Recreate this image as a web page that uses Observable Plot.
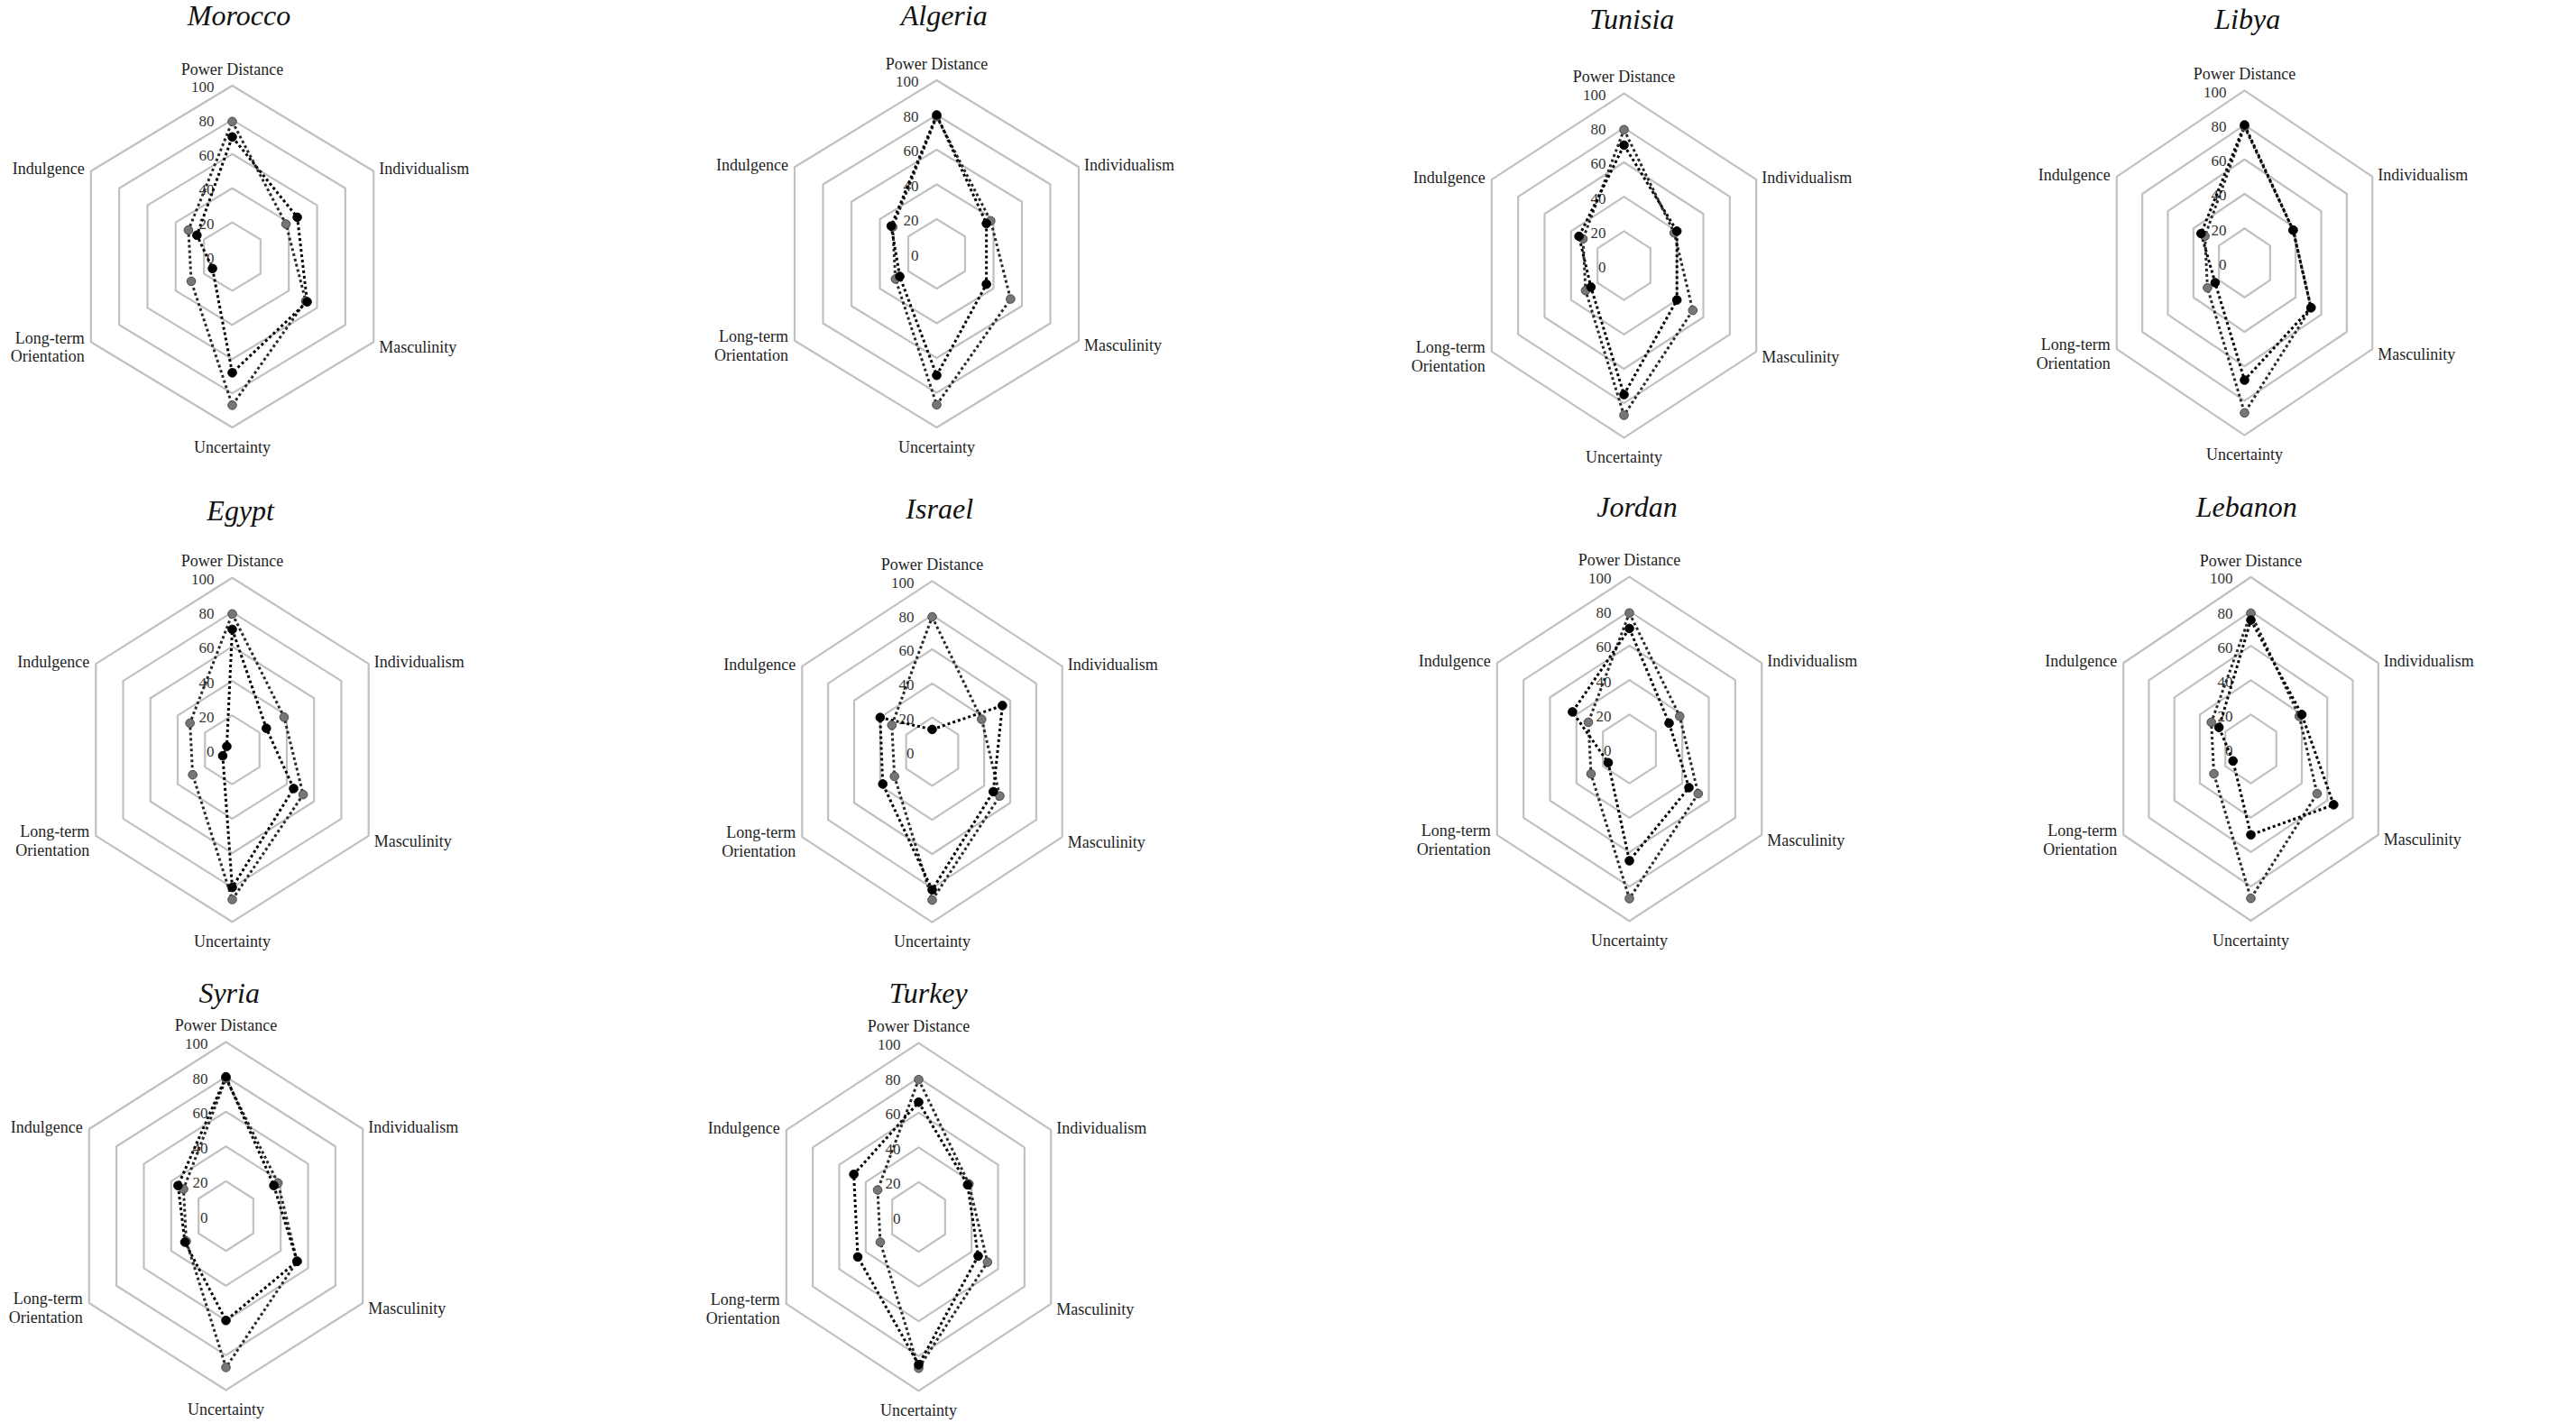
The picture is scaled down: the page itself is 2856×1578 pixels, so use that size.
<!DOCTYPE html>
<html>
<head>
<meta charset="utf-8">
<script src="https://cdn.jsdelivr.net/npm/d3@7"></script>
<script src="https://cdn.jsdelivr.net/npm/@observablehq/plot@0.6"></script>
<style>
  html, body { margin: 0; padding: 0; background: #fff; }
  #fig { position: relative; width: 2856px; height: 1578px; overflow: hidden; background: #fff; }
  .panel { position: absolute; width: 600px; height: 480px; }
  .panel svg { overflow: visible; background: transparent; max-width: none; }
  .title { position: absolute; font-family: "Liberation Serif", serif; font-style: italic; font-size: 32px;
           color: #111; white-space: nowrap; transform: translateX(-50%); line-height: 1; }
</style>
</head>
<body>
<div id="fig"></div>
<script>
// ---- data ----
const dimensions = ["Power Distance", "Individualism", "Masculinity", "Uncertainty", "Long-term Orientation", "Indulgence"];
const dimensionLabels = ["Power Distance", "Individualism", "Masculinity", "Uncertainty", "Long-term\nOrientation", "Indulgence"];
const tickValues = [0, 20, 40, 60, 80, 100];
const ringValues = [20, 40, 60, 80, 100];
const countries = ["Morocco", "Algeria", "Tunisia", "Libya", "Egypt", "Israel", "Jordan", "Lebanon", "Syria", "Turkey"];

// country scores (black series), in dimension order
const morocco = [70, 46, 53, 68, 14, 25];
const algeria = [80, 35, 35, 70, 26, 32];
const tunisia = [70, 40, 40, 75, 25, 34];
const libya   = [80, 38, 52, 68, 23, 34];
const egypt   = [70, 25, 45, 80, 7, 4];
const israel  = [13, 54, 47, 81, 38, 40];
const jordan  = [70, 30, 45, 65, 16, 43];
const lebanon = [75, 40, 65, 50, 14, 25];
const syria   = [80, 35, 52, 60, 30, 35];
const turkey  = [66, 37, 45, 85, 46, 49];

// reference series (grey), same in every panel
const regionalMean = [79, 38, 52, 87, 29, 31];

const countryScores = [morocco, algeria, tunisia, libya, egypt, israel, jordan, lebanon, syria, turkey];

// ---- layout (pixel geometry of each panel) ----
const layout = [
  {cx: 256.7, cy: 283.8, r: 189.5, hw: 156.7, tx: 265, ty: 28},
  {cx: 1037.5, cy: 280.8, r: 192.5, hw: 157.5, tx: 1046.7, ty: 28},
  {cx: 1800, cy: 294.2, r: 190.8, hw: 146.7, tx: 1809.2, ty: 31.7},
  {cx: 2487.7, cy: 290.5, r: 191.2, hw: 141.7, tx: 2491.7, ty: 31.7},
  {cx: 257.2, cy: 830.8, r: 190.8, hw: 151.2, tx: 266.7, ty: 576.7},
  {cx: 1032.5, cy: 832.5, r: 189.2, hw: 144.2, tx: 1041.7, ty: 575},
  {cx: 1806, cy: 830.2, r: 190.8, hw: 146.7, tx: 1815, ty: 573.3},
  {cx: 2495.3, cy: 829.5, r: 190.5, hw: 141.3, tx: 2490.8, ty: 573.3},
  {cx: 250, cy: 1348, r: 193, hw: 151.7, tx: 254.2, ty: 1111.7},
  {cx: 1017.7, cy: 1348.8, r: 192.8, hw: 146.7, tx: 1029.2, ty: 1111.7}
];
const labelStyle = [
  {anchor: "middle", dx: 0, dy: -19},
  {anchor: "start", dx: 6, dy: -3},
  {anchor: "start", dx: 6, dy: 5},
  {anchor: "middle", dx: 0, dy: 21},
  {anchor: "end", dx: -7, dy: 5},
  {anchor: "end", dx: -7, dy: -3}
];

const W = 600, H = 480, SX = 300, SY = 240;
const angle = i => i * Math.PI / 3;

function polygon(values) {
  return values.map((v, i) => ({dim: dimensions[i], value: v, x: (v / 100) * Math.sin(angle(i)), y: (v / 100) * Math.cos(angle(i))}));
}

const ringData = ringValues.flatMap(rv => dimensions.map((d, i) => ({ring: rv, x: (rv / 100) * Math.sin(angle(i)), y: (rv / 100) * Math.cos(angle(i))})));

const fig = document.getElementById("fig");

countries.forEach((name, k) => {
  const L = layout[k];
  const scores = polygon(countryScores[k]);
  const grey = polygon(regionalMean);
  const xr = L.hw / Math.sin(Math.PI / 3);

  const labelMarks = dimensions.map((d, i) => Plot.text([i], {
    x: j => Math.sin(angle(j)),
    y: j => Math.cos(angle(j)),
    text: j => dimensionLabels[j],
    textAnchor: labelStyle[i].anchor,
    dx: labelStyle[i].dx,
    dy: labelStyle[i].dy,
    lineHeight: 1.15,
    fontSize: 18,
    fontFamily: "Liberation Serif",
    fill: "#1e1e1e"
  }));

  const dotted = {curve: "linear-closed", strokeWidth: 3, strokeDasharray: "3,3", strokeLinecap: "butt", strokeLinejoin: "miter"};

  const chart = Plot.plot({
    width: W,
    height: H,
    margin: 0,
    style: {background: "transparent", overflow: "visible"},
    x: {domain: [-1, 1], range: [SX - xr, SX + xr], axis: null},
    y: {domain: [-1, 1], range: [SY + L.r, SY - L.r], axis: null},
    marks: [
      Plot.line(ringData, {x: "x", y: "y", z: "ring", curve: "linear-closed", stroke: "#c0c0c0", strokeWidth: 2.2}),
      Plot.text(tickValues, {x: () => 0, y: v => v / 100, text: v => String(v), textAnchor: "end", dx: -20, dy: 2,
        fontSize: 17, fontFamily: "Liberation Serif", fill: "#333"}),
      Plot.line(grey, {x: "x", y: "y", stroke: "#2a2a2a", ...dotted}),
      Plot.line(scores, {x: "x", y: "y", stroke: "#000", ...dotted}),
      Plot.dot(grey, {x: "x", y: "y", r: 4.8, fill: "#767676", stroke: "#4a4a4a", strokeWidth: 1}),
      Plot.dot(scores, {x: "x", y: "y", r: 4.8, fill: "#000", stroke: "#000", strokeWidth: 1}),
      ...labelMarks
    ]
  });

  const panel = document.createElement("div");
  panel.className = "panel";
  panel.style.left = (L.cx - SX) + "px";
  panel.style.top = (L.cy - SY) + "px";
  panel.appendChild(chart);
  fig.appendChild(panel);

  const title = document.createElement("div");
  title.className = "title";
  title.textContent = name;
  title.style.left = L.tx + "px";
  title.style.top = (L.ty - 27) + "px";
  fig.appendChild(title);
});
</script>
</body>
</html>
